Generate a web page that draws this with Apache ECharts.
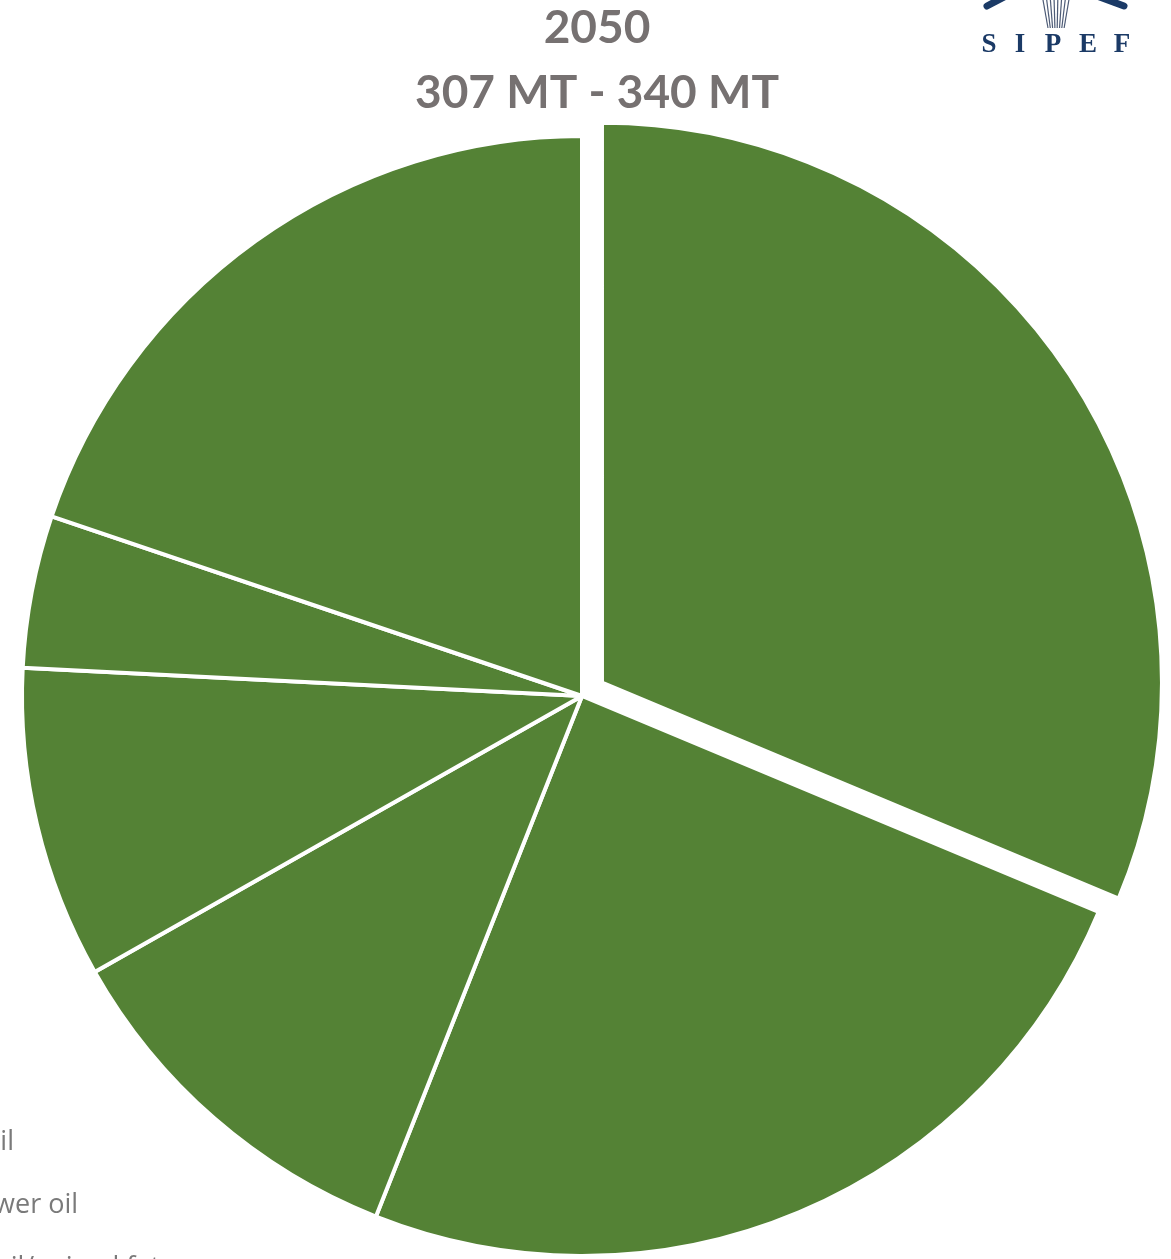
<!DOCTYPE html>
<html>
<head>
<meta charset="utf-8">
<script src="https://cdn.jsdelivr.net/npm/echarts@6/dist/echarts.min.js"></script>
<style>
  html, body { margin: 0; padding: 0; background: #fff; }
  #chart { width: 1171px; height: 1259px; }
</style>
</head>
<body>
<div id="chart"></div>
<script>
// slice data (share of total, %), clockwise from 12 o'clock
var sliceNames = ['Palm oil', 'Soy oil', 'Rapeseed oil', 'Sunflower oil', 'Palm kernel oil', 'Other oil/animal fats'];
var sliceValues = [31.3, 24.7, 10.8, 9.0, 4.4, 19.8];
// legend rows that reach into the picture (cut at the left edge)
var legendOrder = ['Palm oil', 'Sunflower oil', 'Other oil/animal fats'];
var titleYear = '2050';
var titleRange = '307 MT - 340 MT';
var logoLetters = ['S', 'I', 'P', 'E', 'F'];

var green = '#548235';
var grey = '#767171';
var navy = '#1b3a66';

var pieData = [];
for (var i = 0; i < sliceNames.length; i++) {
  pieData.push({
    name: sliceNames[i],
    value: sliceValues[i],
    selected: i === 0
  });
}

// logo: letters + a few strokes
var logoX = [989, 1020, 1053, 1088, 1122];
var logo = [];
for (var k = 0; k < logoLetters.length; k++) {
  logo.push({
    type: 'text',
    x: logoX[k], y: 45,
    style: {
      text: logoLetters[k],
      fill: navy,
      font: 'bold 27px "Liberation Serif", "DejaVu Serif", serif',
      align: 'center',
      verticalAlign: 'middle'
    }
  });
}
logo.push({
  type: 'line', shape: { x1: 987, y1: 6, x2: 1006, y2: -4 },
  style: { stroke: navy, lineWidth: 7, lineCap: 'round' }
});
logo.push({
  type: 'line', shape: { x1: 1097, y1: -4, x2: 1124, y2: 6 },
  style: { stroke: navy, lineWidth: 7, lineCap: 'round' }
});
for (var j = 0; j < 8; j++) {
  logo.push({
    type: 'line',
    shape: { x1: 1043 + j * 3.7, y1: 0, x2: 1048 + j * 2.3, y2: 28 },
    style: { stroke: '#4d5b76', lineWidth: 1.2 }
  });
}

var myChart = echarts.init(document.getElementById('chart'));

var option = {
  animation: false,
  title: {
    text: titleYear + '\n' + titleRange,
    left: 597,
    top: -4,
    padding: 0,
    textAlign: 'center',
    textStyle: {
      color: grey,
      fontFamily: 'Lato',
      fontWeight: 'bold',
      fontSize: 46,
      lineHeight: 65
    }
  },
  legend: {
    orient: 'vertical',
    left: -122,
    top: 1122,
    height: 400,
    itemWidth: 25,
    itemHeight: 14,
    itemGap: 33,
    data: legendOrder,
    textStyle: {
      color: '#7a7a7a',
      fontFamily: 'Open Sans',
      fontSize: 27,
      lineHeight: 30
    }
  },
  graphic: logo,
  series: [
    {
      type: 'pie',
      center: [582, 696],
      radius: 560,
      startAngle: 90,
      clockwise: true,
      selectedMode: 'single',
      selectedOffset: 24,
      avoidLabelOverlap: false,
      itemStyle: {
        color: green,
        borderColor: '#fff',
        borderWidth: 4
      },
      label: { show: false },
      labelLine: { show: false },
      emphasis: { disabled: true },
      data: pieData
    }
  ]
};

myChart.setOption(option);
</script>
</body>
</html>
